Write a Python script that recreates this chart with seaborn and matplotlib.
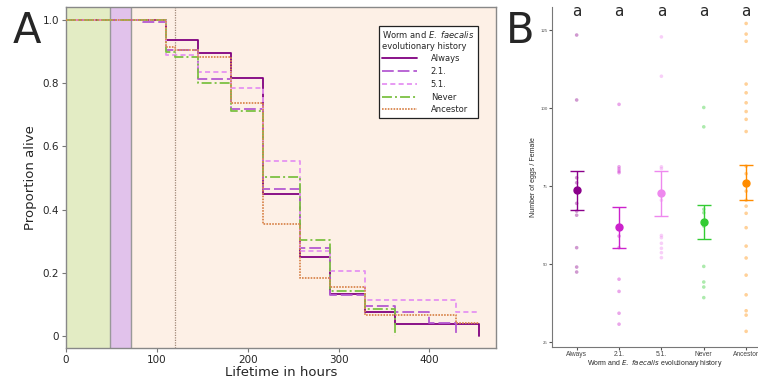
import matplotlib
matplotlib.use("Agg")
import matplotlib.pyplot as plt
import seaborn as sns
import pandas as pd
import numpy as np

# ---- panel A: survival curves (hours, proportion alive) ----
always_t = [0, 110, 145, 182, 217, 257, 290, 329, 362, 455]
always_p = [1.0, 0.937, 0.897, 0.818, 0.449, 0.251, 0.134, 0.076, 0.039, 0.0]

s21_t = [0, 85, 110, 145, 182, 217, 257, 290, 329, 362, 400, 429]
s21_p = [1.0, 0.995, 0.905, 0.814, 0.720, 0.465, 0.278, 0.131, 0.095, 0.075, 0.040, 0.0]

s51_t = [0, 110, 145, 182, 217, 257, 290, 329, 429, 455]
s51_p = [1.0, 0.889, 0.836, 0.784, 0.554, 0.270, 0.206, 0.114, 0.075, 0.075]

never_t = [0, 110, 120, 145, 182, 217, 257, 290, 329, 362]
never_p = [1.0, 0.898, 0.883, 0.800, 0.712, 0.504, 0.305, 0.141, 0.087, 0.0]

anc_t = [0, 110, 120, 145, 182, 217, 257, 290, 329, 429, 455]
anc_p = [1.0, 0.915, 0.905, 0.882, 0.738, 0.353, 0.185, 0.155, 0.065, 0.041, 0.041]

labels = ["Always", "2.1.", "5.1.", "Never", "Ancestor"]
curve_cols = ["#800080", "#b45ad2", "#e592f2", "#7cc143", "#d9874f"]
curve_ls = ["-", (0, (6.5, 2.2)), (0, (2.8, 1.8)), (0, (5.5, 1.7, 1.1, 1.7)), (0, (0.9, 0.7))]

# ---- panel B: eggs per female ----
eggs_always = [123.4, 102.6, 77.7, 76.1, 69.5, 67.0, 65.7, 55.3, 49.1, 47.5]
eggs_21 = [101.2, 81.2, 80.5, 79.8, 79.3, 59.0, 55.3, 45.2, 41.3, 34.3, 30.8]
eggs_51 = [122.8, 110.2, 81.2, 80.6, 70.5, 59.2, 58.5, 56.7, 55.1, 53.7, 52.1]
eggs_never = [100.2, 94.0, 67.6, 66.5, 62.2, 49.3, 44.3, 42.7, 39.3]
eggs_anc = [127.1, 123.7, 121.4, 107.7, 104.9, 101.7, 98.9, 96.4, 92.5, 81.4, 79.0,
            73.4, 70.5, 68.6, 66.3, 61.7, 55.8, 52.0, 46.5, 40.2, 35.1, 33.7, 28.5]
egg_mean = [73.7, 61.8, 72.9, 63.6, 76.1]
egg_lo = [67.5, 55.3, 65.6, 58.2, 70.5]
egg_hi = [80.0, 68.2, 80.0, 68.9, 81.7]
sig_letters = ["a", "a", "a", "a", "a"]
egg_cols = ["#8b008b", "#cc22cc", "#ee88ee", "#33cc33", "#ff8c00"]

sns.set_style("ticks")
plt.rcParams["font.family"] = ["DejaVu Sans"]

fig = plt.figure(figsize=(7.58, 3.81), dpi=100)
axA = fig.add_axes([0.0871, 0.0866, 0.567, 0.894])
axB = fig.add_axes([0.7278, 0.0885, 0.2722, 0.8925])

# background phases
axA.axvspan(0, 48, color="#e3ecc4", lw=0, zorder=0)
axA.axvspan(48, 72, color="#e1c2eb", lw=0, zorder=0)
axA.axvspan(72, 473, color="#fdf0e6", lw=0, zorder=0)
axA.axvline(48, color="#999999", lw=1, zorder=1)
axA.axvline(72, color="#999999", lw=1, zorder=1)
axA.axvline(120, color="#a08878", lw=0.9, ls=(0, (1, 1)), zorder=1)

series = [(always_t, always_p), (s21_t, s21_p), (s51_t, s51_p), (never_t, never_p), (anc_t, anc_p)]
for (t, p), lab, c, ls in zip(series, labels, curve_cols, curve_ls):
    sns.lineplot(x=t, y=p, ax=axA, color=c, linestyle=ls, lw=1.3, label=lab,
                 drawstyle="steps-post", estimator=None, sort=False, zorder=3)

axA.set_xlim(0, 473)
axA.set_ylim(-0.038, 1.04)
axA.set_xticks([0, 100, 200, 300, 400])
axA.set_yticks([0, 0.2, 0.4, 0.6, 0.8, 1.0])
axA.set_yticklabels(["0", "0.2", "0.4", "0.6", "0.8", "1.0"])
axA.tick_params(labelsize=7.5, color="#777777", length=3, width=0.8, pad=2)
axA.set_xlabel("Lifetime in hours", fontsize=9.5, labelpad=1)
axA.set_ylabel("Proportion alive", fontsize=9.5, labelpad=4)
for s in axA.spines.values():
    s.set_color("#888888")
    s.set_linewidth(1)

leg = axA.legend(title="Worm and $\\it{E.\\ faecalis}$\nevolutionary history",
                 loc="upper right", bbox_to_anchor=(0.968, 0.958), fontsize=6,
                 title_fontsize=6, frameon=True, fancybox=False, edgecolor="#222222",
                 facecolor="white", framealpha=1, handlelength=4.2, handletextpad=1.6,
                 labelspacing=0.45, borderpad=0.4, alignment="left")
leg.get_frame().set_linewidth(0.9)

fig.text(0.017, 0.975, "A", fontsize=30, va="top", ha="left")
fig.text(0.667, 0.975, "B", fontsize=30, va="top", ha="left")

# ---- panel B ----
egg_df = pd.DataFrame({
    "history": (["Always"] * len(eggs_always) + ["2.1."] * len(eggs_21) + ["5.1."] * len(eggs_51)
                + ["Never"] * len(eggs_never) + ["Ancestor"] * len(eggs_anc)),
    "eggs": eggs_always + eggs_21 + eggs_51 + eggs_never + eggs_anc,
})
sns.stripplot(data=egg_df, x="history", y="eggs", hue="history", order=labels,
              hue_order=labels, palette=egg_cols, jitter=False, alpha=0.4, size=2.6,
              linewidth=0, legend=False, ax=axB)

pos = np.arange(len(labels))
for i in pos:
    axB.errorbar(i, egg_mean[i], yerr=[[egg_mean[i] - egg_lo[i]], [egg_hi[i] - egg_mean[i]]],
                 fmt="o", color=egg_cols[i], ms=5, capsize=4.8, elinewidth=1, capthick=1,
                 zorder=4)
    axB.text(i, 130.8, sig_letters[i], ha="center", va="center", fontsize=11)

axB.set_xlim(-0.59, 4.28)
axB.set_ylim(23.4, 132.3)
axB.set_yticks([25, 50, 75, 100, 125])
axB.tick_params(axis="y", labelsize=3.2, length=2, color="#555555", labelcolor="#555555", pad=1)
axB.tick_params(axis="x", labelsize=4.8, length=2, color="#555555", labelcolor="#444444", pad=1)
for lab in axB.get_xticklabels() + axB.get_yticklabels():
    lab.set_family("Liberation Sans")
axB.set_xlabel("Worm and $\\it{E.\\ faecalis}$ evolutionary history", fontsize=5,
               labelpad=0, family="Liberation Sans")
axB.set_ylabel("Number of eggs / Female", fontsize=5, labelpad=2, family="Liberation Sans")
sns.despine(ax=axB)
axB.spines["left"].set_color("#777777")
axB.spines["bottom"].set_color("#777777")

fig.savefig("out.png", dpi=100)
